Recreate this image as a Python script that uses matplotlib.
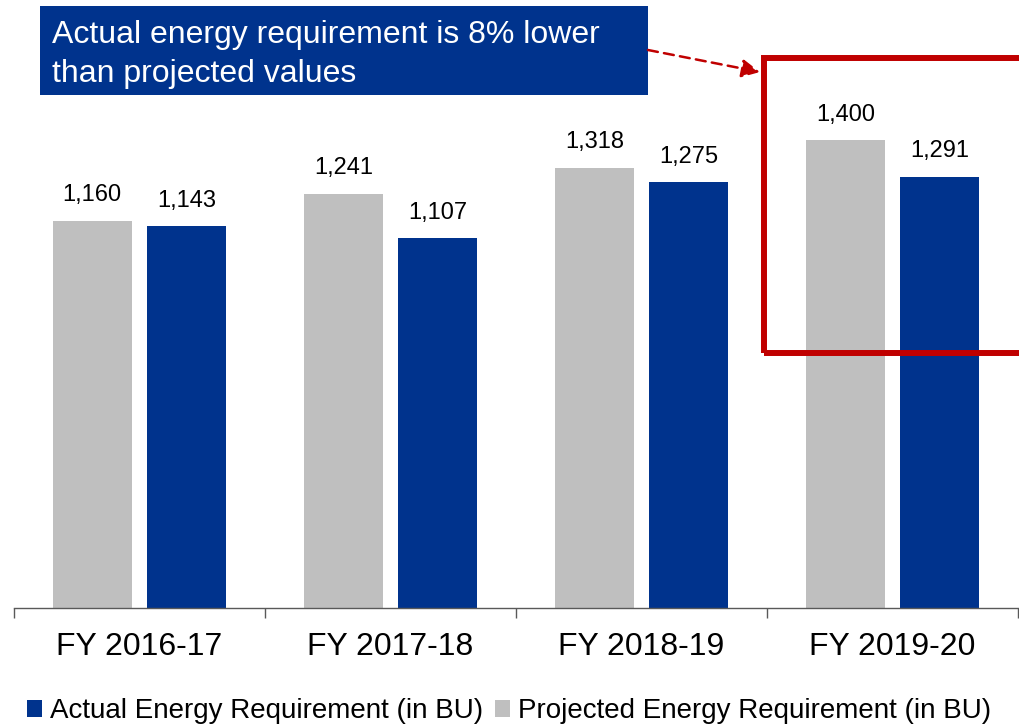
import matplotlib
matplotlib.use("Agg")
import matplotlib.pyplot as plt
from matplotlib.patches import Rectangle, Patch, FancyArrowPatch
import numpy as np

plt.rcParams['font.family'] = ['Liberation Sans', 'DejaVu Sans']

categories = ["FY 2016-17", "FY 2017-18", "FY 2018-19", "FY 2019-20"]
projected = [1160, 1241, 1318, 1400]
actual = [1143, 1107, 1275, 1291]
series_names = ["Actual Energy Requirement (in BU)", "Projected Energy Requirement (in BU)"]
annotation_lines = ["Actual energy requirement is 8% lower", "than projected values"]

BLUE = "#00338D"
GRAY = "#BFBFBF"
RED = "#C00000"

W, H = 1020, 726
fig = plt.figure(figsize=(W / 100, H / 100), dpi=100)

def fx(px):
    return px / W

def fy(py):
    return 1 - py / H

ax_left, ax_right = 14, 1018
ax_bottom_px = 608
ymax = 1600
px_per_unit = 0.334
ax_top_px = ax_bottom_px - ymax * px_per_unit
ax = fig.add_axes([fx(ax_left), fy(ax_bottom_px), fx(ax_right - ax_left), (ax_bottom_px - ax_top_px) / H])

x = np.arange(len(categories))
bw = 0.315
off = 0.188
b_proj = ax.bar(x - off, projected, width=bw, color=GRAY, zorder=2)
b_act = ax.bar(x + off, actual, width=bw, color=BLUE, zorder=2)
for bars in (b_proj, b_act):
    ax.bar_label(bars, labels=[f"{v:,}" for v in bars.datavalues], padding=10.5, fontsize=17, color="#000000")

ax.set_xlim(-0.5, len(categories) - 0.5)
ax.set_ylim(0, ymax)
for s in ("top", "right", "left"):
    ax.spines[s].set_visible(False)
ax.spines["bottom"].set_color("#595959")
ax.spines["bottom"].set_linewidth(1.0)
ax.set_yticks([])
ax.set_xticks(np.arange(len(categories) + 1) - 0.5)
ax.set_xticklabels([])
ax.tick_params(axis="x", which="major", length=7, width=1.0, color="#595959", direction="out")
ax.set_xticks(x, minor=True)
ax.set_xticklabels(categories, minor=True, fontsize=23)
ax.tick_params(axis="x", which="minor", length=0, pad=17)

# Annotation box
fig.add_artist(Rectangle((fx(40), fy(95)), fx(648 - 40), (95 - 6) / H,
                         transform=fig.transFigure, facecolor=BLUE, edgecolor="none", zorder=5))
for line, base in zip(annotation_lines, (43, 82)):
    fig.text(fx(52), fy(base), line, color="white", fontsize=23,
             ha="left", va="baseline", zorder=6)

# Red highlight box (extends past the right edge)
fig.add_artist(Rectangle((fx(764), fy(353)), fx(1040 - 764), (353 - 58) / H,
                         transform=fig.transFigure, facecolor="none", edgecolor=RED,
                         linewidth=4.3, zorder=7, clip_on=False))

# Dashed arrow
fig.add_artist(FancyArrowPatch(
    (fx(648), fy(50)), (fx(760), fy(72)), transform=fig.transFigure,
    arrowstyle="-|>,head_length=11,head_width=5.5", linestyle=(0, (4, 2.5)),
    color=RED, linewidth=1.8, zorder=8, shrinkA=0, shrinkB=0))

handles = [Patch(facecolor=BLUE, edgecolor="none"), Patch(facecolor=GRAY, edgecolor="none")]
fig.legend(handles, series_names, loc="center", bbox_to_anchor=(0.499, fy(711)), ncol=2,
           frameon=False, fontsize=20, handlelength=0.55, handleheight=0.55,
           handletextpad=0.3, columnspacing=0.4, borderaxespad=0)

fig.savefig("out.png", dpi=100)
